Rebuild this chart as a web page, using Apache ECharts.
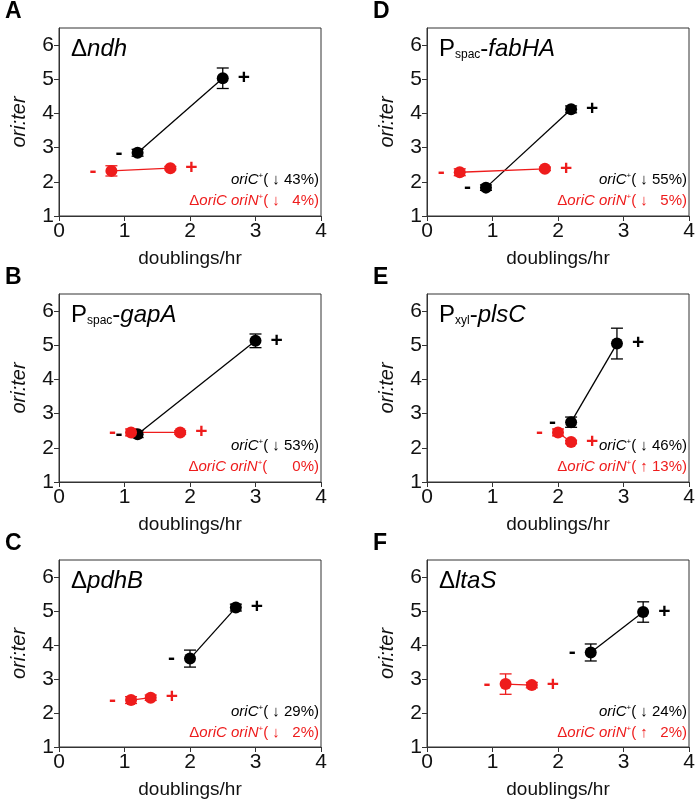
<!DOCTYPE html>
<html>
<head>
<meta charset="utf-8">
<title>ori:ter panels</title>
<script src="https://cdn.jsdelivr.net/npm/echarts@6/dist/echarts.min.js"></script>
</head>
<body style="margin:0;background:#fff">
<div id="main" style="width:699px;height:800px;"></div>
<script type="text/javascript">
// [doublings/hr, ori:ter, error]
var ndhBlack = [[1.2, 2.85, 0.1], [2.5, 5.03, 0.3]];
var ndhRed = [[0.8, 2.32, 0.15], [1.7, 2.4, 0.05]];
var gapABlack = [[1.2, 2.4, 0.1], [3.0, 5.13, 0.2]];
var gapARed = [[1.1, 2.45, 0.1], [1.85, 2.45, 0.05]];
var pdhBBlack = [[2.0, 3.6, 0.25], [2.7, 5.1, 0.1]];
var pdhBRed = [[1.1, 2.38, 0.1], [1.4, 2.45, 0.08]];
var fabHABlack = [[0.9, 1.83, 0.08], [2.2, 4.12, 0.1]];
var fabHARed = [[0.5, 2.28, 0.1], [1.8, 2.38, 0.05]];
var plsCBlack = [[2.2, 2.75, 0.15], [2.9, 5.05, 0.45]];
var plsCRed = [[2.0, 2.45, 0.1], [2.2, 2.17, 0.05]];
var ltaSBlack = [[2.5, 3.78, 0.25], [3.3, 4.97, 0.3]];
var ltaSRed = [[1.2, 2.85, 0.3], [1.6, 2.82, 0.08]];

var letters = ['A', 'B', 'C', 'D', 'E', 'F'];
var titles = [
    '{n|Δ}{i|ndh}', '{n|P}{s|spac}{n|-}{i|gapA}', '{n|Δ}{i|pdhB}',
    '{n|P}{s|spac}{n|-}{i|fabHA}', '{n|P}{s|xyl}{n|-}{i|plsC}', '{n|Δ}{i|ltaS}'
];
var blackPct = ['↓ 43%', '↓ 53%', '↓ 29%', '↓ 55%', '↓ 46%', '↓ 24%'];
var redPct = ['↓   4%', '     0%', '↓   2%', '↓   5%', '↑ 13%', '↑   2%'];
var blackData = [ndhBlack, gapABlack, pdhBBlack, fabHABlack, plsCBlack, ltaSBlack];
var redData = [ndhRed, gapARed, pdhBRed, fabHARed, plsCRed, ltaSRed];

var lefts = [59, 427];
var tops = [28, 294, 560];
var W = 262, H = 188;
var RED = '#ee1c1c';
var FONT = 'Liberation Sans';

var grids = [], xAxes = [], yAxes = [], series = [], graphics = [];

function errorSeries(i, data, color) {
    return {
        type: 'custom', xAxisIndex: i, yAxisIndex: i, z: 3,
        data: data,
        renderItem: function (params, api) {
            var x = api.value(0), y = api.value(1), e = api.value(2);
            var hi = api.coord([x, y + e]), lo = api.coord([x, y - e]);
            var c = 6;
            var st = { stroke: color, lineWidth: 1.3 };
            return { type: 'group', children: [
                { type: 'line', shape: { x1: hi[0], y1: hi[1], x2: lo[0], y2: lo[1] }, style: st },
                { type: 'line', shape: { x1: hi[0] - c, y1: hi[1], x2: hi[0] + c, y2: hi[1] }, style: st },
                { type: 'line', shape: { x1: lo[0] - c, y1: lo[1], x2: lo[0] + c, y2: lo[1] }, style: st }
            ] };
        }
    };
}

function lineSeries(i, data, color) {
    return {
        type: 'line', xAxisIndex: i, yAxisIndex: i, z: 4,
        data: data.map(function (d, k) {
            return {
                value: [d[0], d[1]],
                label: { show: true, position: k === 0 ? 'left' : 'right', distance: 9,
                    formatter: k === 0 ? '-' : '+', color: color, fontSize: 21, fontWeight: 'bold' }
            };
        }),
        symbol: 'circle', symbolSize: 12,
        itemStyle: { color: color },
        lineStyle: { color: color, width: 1.3 }
    };
}

for (var i = 0; i < 6; i++) {
    var col = Math.floor(i / 3), row = i % 3;
    var L = lefts[col], T = tops[row];
    grids.push({ left: L, top: T, width: W, height: H, show: true, borderColor: '#333', borderWidth: 1 });
    xAxes.push({
        gridIndex: i, type: 'value', min: 0, max: 4, interval: 1,
        name: 'doublings/hr', nameLocation: 'middle', nameGap: 33,
        nameTextStyle: { fontSize: 19, color: '#111', fontFamily: FONT },
        axisLine: { lineStyle: { color: '#333' } },
        axisTick: { length: 5, lineStyle: { color: '#333' } },
        axisLabel: { fontSize: 21, color: '#111', margin: 5, fontFamily: FONT },
        splitLine: { show: false }
    });
    yAxes.push({
        gridIndex: i, type: 'value', min: 1, max: 6.5, interval: 1,
        name: 'ori:ter', nameLocation: 'middle', nameGap: 30,
        nameTextStyle: { fontSize: 20, fontStyle: 'italic', color: '#111', fontFamily: FONT },
        axisLine: { lineStyle: { color: '#333' } },
        axisTick: { length: 5, lineStyle: { color: '#333' } },
        axisLabel: { fontSize: 21, color: '#111', margin: 5, showMaxLabel: false, fontFamily: FONT },
        splitLine: { show: false }
    });
    series.push(lineSeries(i, blackData[i], '#000'));
    series.push(lineSeries(i, redData[i], RED));
    series.push(errorSeries(i, blackData[i], '#000'));
    series.push(errorSeries(i, redData[i], RED));

    graphics.push({ type: 'text', left: L - 54, top: T - 28,
        style: { text: letters[i], fontSize: 23, fontWeight: 'bold', fill: '#000', fontFamily: FONT } });
    graphics.push({ type: 'text', left: L + 12, top: T + 9, z: 10,
        style: { text: titles[i], fill: '#000', fontFamily: FONT,
            rich: {
                n: { fontSize: 24, fill: '#000' },
                i: { fontSize: 24, fontStyle: 'italic', fill: '#000' },
                s: { fontSize: 12, fill: '#000', padding: [12, 0, 0, 0] }
            } } });
    graphics.push({ type: 'text', right: 699 - (L + W) + 2, top: T + H - 44, z: 10,
        style: { text: '{i|oriC}{s|+}{n|( ' + blackPct[i] + ')}', fill: '#000', fontFamily: FONT,
            rich: {
                i: { fontSize: 15, fontStyle: 'italic', fill: '#000' },
                s: { fontSize: 8, fill: '#000', verticalAlign: 'top' },
                n: { fontSize: 15, fill: '#000' }
            } } });
    graphics.push({ type: 'text', right: 699 - (L + W) + 2, top: T + H - 23, z: 10,
        style: { text: '{n|Δ}{i|oriC oriN}{s|+}{n|( ' + redPct[i] + ')}', fill: RED, fontFamily: FONT,
            rich: {
                i: { fontSize: 15, fontStyle: 'italic', fill: RED },
                s: { fontSize: 8, fill: RED, verticalAlign: 'top' },
                n: { fontSize: 15, fill: RED }
            } } });
}

var myChart = echarts.init(document.getElementById('main'));
myChart.setOption({
    backgroundColor: '#fff',
    animation: false,
    grid: grids,
    xAxis: xAxes,
    yAxis: yAxes,
    series: series,
    graphic: graphics
});
</script>
</body>
</html>
